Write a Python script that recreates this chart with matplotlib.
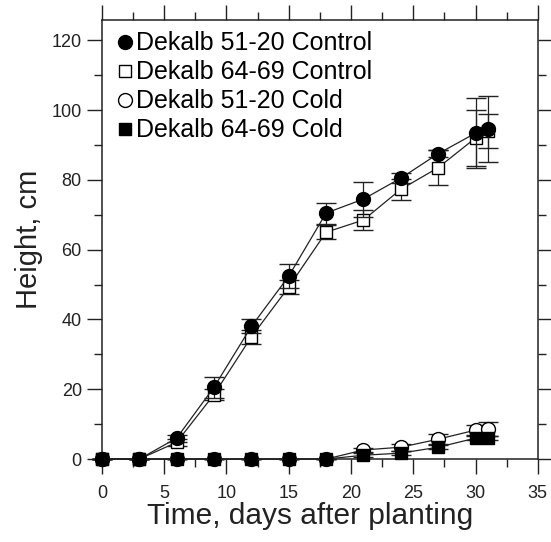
import matplotlib
matplotlib.use("Agg")
import matplotlib.pyplot as plt
from matplotlib.lines import Line2D
from matplotlib.ticker import MultipleLocator

plt.rcParams['font.family'] = ['Liberation Sans', 'DejaVu Sans']

# days after planting
days = [0, 3, 6, 9, 12, 15, 18, 21, 24, 27, 30, 31]

# heights, cm
ctrl_5120 = [0, 0, 6, 20.6, 38, 52.4, 70.5, 74.5, 80.5, 87.5, 93.4, 94.5]
ctrl_6469 = [0, 0, 4.8, 18.5, 35, 49.3, 65, 68.5, 77.3, 83.5, 92, 94]
cold_5120 = [0, 0, 0, 0, 0, 0, 0, 2.6, 3.4, 5.7, 8.3, 8.5]
cold_6469 = [0, 0, 0, 0, 0, 0, 0, 1.1, 1.7, 3.4, 6, 6]

# error (+/-)
err_ctrl_5120 = [0, 0, 1, 3, 2, 3.5, 3, 5, 1.5, 1, 10, 9.5]
err_ctrl_6469 = [0, 0, 1, 1.5, 2, 2, 2, 3, 3, 5, 8, 5]
err_cold_5120 = [0, 0, 0, 0, 0, 0, 0, 0.5, 1, 1.5, 1.5, 2]
err_cold_6469 = [0, 0, 0, 0, 0, 0, 0, 0.5, 0.5, 0.5, 0.5, 0.5]

labels = ["Dekalb 51-20 Control", "Dekalb 64-69 Control",
          "Dekalb 51-20 Cold", "Dekalb 64-69 Cold"]

fig = plt.figure(figsize=(5.51, 5.42), dpi=100)
ax = fig.add_axes([0.185, 0.153, 0.791, 0.810])

common = dict(color="#222222", lw=0.9, ecolor="#222222", elinewidth=0.9,
              capsize=7, capthick=0.9, mec="black", mew=1.0)

series = [
    (ctrl_6469, err_ctrl_6469, "s", 9, "white", 3),
    (ctrl_5120, err_ctrl_5120, "o", 10, "black", 4),
    (cold_5120, err_cold_5120, "o", 10, "white", 3),
    (cold_6469, err_cold_6469, "s", 9, "black", 4),
]
for vals, err, mk, ms, fc, z in series:
    cont = ax.errorbar(days, vals, yerr=err, fmt="-" + mk, ms=ms, mfc=fc,
                       zorder=z, **common)
    cont[0].set_clip_on(False)
    for part in cont[1] + cont[2]:
        part.set_clip_on(False)

ax.set_xlim(0, 35)
ax.set_ylim(0, 125.8)
ax.xaxis.set_major_locator(MultipleLocator(5))
ax.xaxis.set_minor_locator(MultipleLocator(2.5))
ax.yaxis.set_major_locator(MultipleLocator(20))
ax.yaxis.set_minor_locator(MultipleLocator(10))
ax.tick_params(which="both", direction="out", top=True, right=True,
               labelsize=13, colors="#222222", width=1)
ax.tick_params(which="major", length=11)
ax.tick_params(which="minor", length=6)
ax.tick_params(axis="x", which="major", pad=8)
for s in ax.spines.values():
    s.set_linewidth(1.1)
    s.set_color("#222222")

ax.set_xlabel("Time, days after planting", fontsize=21.5, labelpad=0, color="#222222")
ax.xaxis.label.set_x(0.477)
ax.set_ylabel("Height, cm", fontsize=21, labelpad=6, color="#222222")

# legend shows markers only
legend_style = {labels[0]: ("o", 10, "black"), labels[1]: ("s", 9, "white"),
                labels[2]: ("o", 10, "white"), labels[3]: ("s", 9, "black")}
handles = [Line2D([], [], ls="none", marker=m, ms=s, mfc=fc, mec="black", mew=1.0)
           for m, s, fc in (legend_style[l] for l in labels)]
ax.legend(handles, labels, loc="upper left",
          frameon=False, fontsize=18, handlelength=0.6, handletextpad=0.15,
          labelspacing=0.2, borderaxespad=0.25, borderpad=0.2,
          bbox_to_anchor=(0.01, 1.0))

fig.savefig("out.png", dpi=100)
